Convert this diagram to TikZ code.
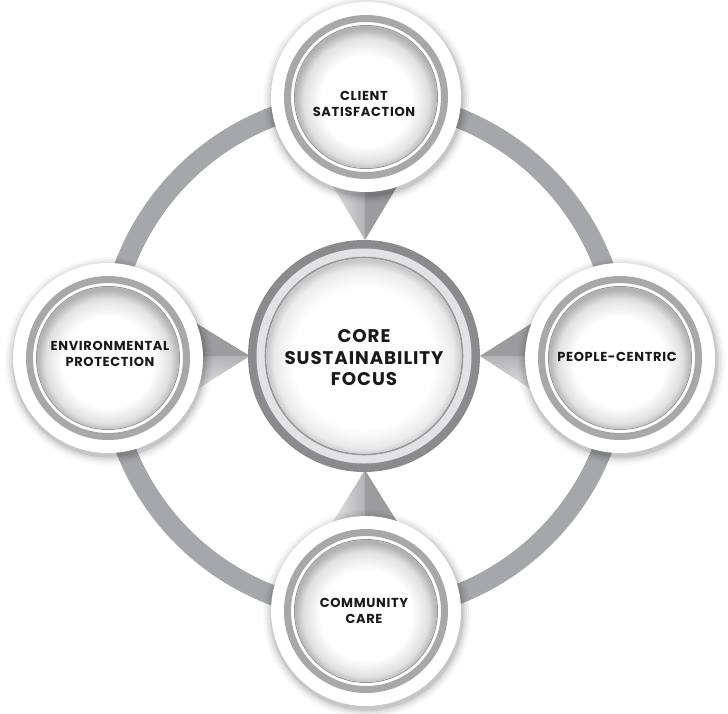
\documentclass[tikz,border=0pt]{standalone}
\usepackage{fontspec}
\newfontfamily\lblfont{Poppins}[LetterSpace=5]
\usetikzlibrary{calc}
\definecolor{ringgray}{RGB}{166,167,170}
\definecolor{satring}{RGB}{168,168,170}
\definecolor{cdark}{RGB}{139,139,141}
\definecolor{clight}{RGB}{226,226,228}
\definecolor{thinln}{RGB}{150,150,152}
\definecolor{tridark}{RGB}{156,156,158}
\definecolor{trilight}{RGB}{228,228,230}
\definecolor{trimid}{RGB}{178,178,180}
\pgfdeclareradialshading{satshade}{\pgfpoint{0bp}{-2bp}}{color(0bp)=(white); color(16bp)=(white); color(22bp)=(black!12); color(25bp)=(black!30); color(50bp)=(black!30)}
\pgfdeclareradialshading{coreshade}{\pgfpoint{0bp}{-1bp}}{color(0bp)=(white); color(18bp)=(white); color(23bp)=(black!8); color(25bp)=(black!22); color(50bp)=(black!22)}
\tikzset{
  satlabel/.style={align=center, inner sep=0pt, text=black!90, font=\lblfont\bfseries\fontsize{13}{16}\selectfont},
  corelabel/.style={align=center, inner sep=0pt, text=black!90, font=\lblfont\bfseries\fontsize{18.3}{21.5}\selectfont},
  bigring/.style={draw=ringgray, line width=20},
}
\newcommand\satdisk[1]{%
  \begin{scope}[shift={(#1)}]
    \foreach \rr/\oo in {104/0.025,102/0.035,100/0.045,98/0.06,96.5/0.07}{
      \fill[black, fill opacity=\oo] (1,3) circle (\rr);
    }
    \fill[white] (0,0) circle (95);
    \draw[satring, line width=7] (0,0) circle (78.5);
    \draw[thinln, line width=1] (0,0) circle (71.5);
    \shade[shading=satshade] (0,0) circle (71);
  \end{scope}}
\begin{document}
\begin{tikzpicture}[x=1pt,y=-1pt]
\useasboundingbox (0,0) rectangle (728,713);
\fill[white] (0,0) rectangle (728,713);
\coordinate (cC) at (364,356);
\coordinate (sT) at (366,97);
\coordinate (sL) at (108,358);
\coordinate (sR) at (620,358);
\coordinate (sB) at (366,611);
% big ring
\draw[bigring] (cC) circle (256);
% triangles (pointers)
% top
\coordinate (tT) at (365,240);
\shade[left color=trilight, right color=trimid] (tT) -- ($(sT)+(-34,88)$) -- ($(sT)+(-1,88)$) -- cycle;
\fill[tridark] (tT) -- ($(sT)+(-1,88)$) -- ($(sT)+(32,88)$) -- cycle;
% bottom
\coordinate (tB) at (365,470);
\shade[left color=trilight, right color=trimid] (tB) -- ($(sB)+(-34,-88)$) -- ($(sB)+(-1,-88)$) -- cycle;
\fill[tridark] (tB) -- ($(sB)+(-1,-88)$) -- ($(sB)+(32,-88)$) -- cycle;
% left
\coordinate (tL) at (250,356);
\fill[tridark] (tL) -- ($(sL)+(88,-35)$) -- ($(sL)+(88,-2)$) -- cycle;
\shade[top color=trimid, bottom color=trilight] (tL) -- ($(sL)+(88,-2)$) -- ($(sL)+(88,32)$) -- cycle;
% right
\coordinate (tR) at (480,356);
\fill[tridark] (tR) -- ($(sR)+(-88,-35)$) -- ($(sR)+(-88,-2)$) -- cycle;
\shade[top color=trimid, bottom color=trilight] (tR) -- ($(sR)+(-88,-2)$) -- ($(sR)+(-88,32)$) -- cycle;
% satellites
\satdisk{sT}
\satdisk{sL}
\satdisk{sR}
\satdisk{sB}
% core
\begin{scope}[shift={(cC)}]
  \fill[cdark] (0,0) circle (116);
  \fill[clight] (0,0) circle (107.5);
  \draw[thinln, line width=1.6] (0,0) circle (98.5);
  \shade[shading=coreshade] (0,0) circle (97.6);
\end{scope}
% labels
\node[corelabel] (core) at (364,358) {CORE\\SUSTAINABILITY\\FOCUS};
\node[satlabel] (client) at (364,104) {CLIENT\\SATISFACTION};
\node[satlabel] (env) at (110,354) {ENVIRONMENTAL\\PROTECTION};
\node[satlabel] (people) at (617,357) {PEOPLE-CENTRIC};
\node[satlabel] (community) at (364,611) {COMMUNITY\\CARE};
\end{tikzpicture}
\end{document}
